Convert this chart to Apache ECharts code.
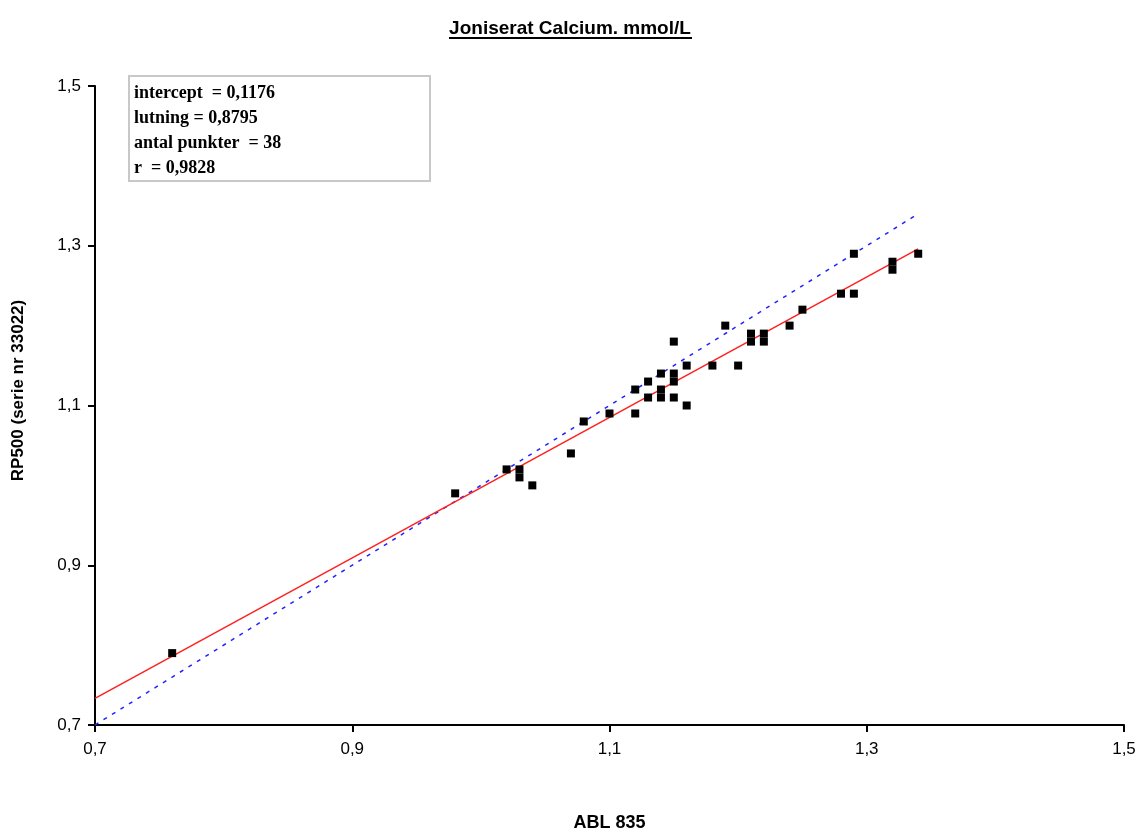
<!DOCTYPE html>
<html>
<head>
<meta charset="utf-8">
<title>Joniserat Calcium</title>
<script src="https://cdn.jsdelivr.net/npm/echarts@6/dist/echarts.min.js"></script>
<style>
  html, body { margin: 0; padding: 0; background: #fff; }
  #chart { width: 1140px; height: 832px; }
</style>
</head>
<body>
<div id="chart"></div>
<script>
// measured pairs (ABL 835, RP500)
var ablValues = [0.76, 0.98, 1.02, 1.03, 1.03, 1.04, 1.07, 1.08, 1.10, 1.12, 1.12, 1.13, 1.13,
  1.14, 1.14, 1.14, 1.15, 1.15, 1.15, 1.15, 1.16, 1.16, 1.18, 1.19, 1.20, 1.21, 1.21,
  1.22, 1.22, 1.24, 1.25, 1.28, 1.29, 1.29, 1.32, 1.32, 1.34]
var rpValues = [0.79, 0.99, 1.02, 1.02, 1.01, 1.00, 1.04, 1.08, 1.09, 1.09, 1.12, 1.11, 1.13,
  1.14, 1.12, 1.11, 1.14, 1.13, 1.11, 1.18, 1.15, 1.10, 1.15, 1.20, 1.15, 1.19, 1.18,
  1.19, 1.18, 1.20, 1.22, 1.24, 1.24, 1.29, 1.28, 1.27, 1.29]

// fitted line and line of identity, end points
var regressionLine = [[0.7, 0.7333], [1.34, 1.2961]]
var identityLine = [[0.7, 0.7], [1.34, 1.34]]

var statLines = [
  'intercept  = 0,1176',
  'lutning = 0,8795',
  'antal punkter  = 38',
  'r  = 0,9828'
]

var points = ablValues.map(function (x, i) { return [x, rpValues[i]] })

function comma (v) {
  return (Math.round(v * 10) / 10).toFixed(1).replace('.', ',')
}

var chart = echarts.init(document.getElementById('chart'))

var option = {
  backgroundColor: '#fff',
  animation: false,
  title: {
    text: 'Joniserat Calcium. mmol/L',
    left: 'center',
    top: 14,
    textStyle: {
      fontFamily: 'Liberation Sans Narrow, Liberation Sans, Arial',
      fontSize: 19,
      fontWeight: 'bold',
      color: '#000'
    }
  },
  grid: { left: 95, right: 16, top: 86, bottom: 107, outerBoundsMode: 'none', containLabel: false },
  xAxis: {
    type: 'value',
    min: 0.7,
    max: 1.5,
    interval: 0.2,
    name: 'ABL 835',
    nameLocation: 'middle',
    nameGap: 89,
    nameTextStyle: {
      fontFamily: 'Liberation Sans Narrow, Liberation Sans, Arial',
      fontSize: 18, fontWeight: 'bold', color: '#000'
    },
    axisLine: { lineStyle: { color: '#000', width: 2 } },
    axisTick: { length: 7, lineStyle: { color: '#000', width: 2 } },
    axisLabel: {
      formatter: comma,
      margin: 16,
      fontFamily: 'Liberation Sans, Arial',
      fontSize: 17,
      color: '#000'
    },
    splitLine: { show: false }
  },
  yAxis: {
    type: 'value',
    min: 0.7,
    max: 1.5,
    interval: 0.2,
    name: 'RP500 (serie nr 33022)',
    nameLocation: 'middle',
    nameGap: 68,
    nameRotate: 90,
    nameTextStyle: {
      fontFamily: 'Liberation Sans Narrow, Liberation Sans, Arial',
      fontSize: 17, fontWeight: 'bold', color: '#000',
      padding: [0, 0, 0, 30]
    },
    axisLine: { lineStyle: { color: '#000', width: 2 } },
    axisTick: { length: 7, lineStyle: { color: '#000', width: 2 } },
    axisLabel: {
      formatter: comma,
      margin: 14,
      fontFamily: 'Liberation Sans, Arial',
      fontSize: 17,
      color: '#000'
    },
    splitLine: { show: false }
  },
  series: [
    {
      type: 'line',
      data: identityLine,
      symbol: 'none',
      lineStyle: { color: '#2222ff', width: 1.5, type: [4, 6] },
      z: 2
    },
    {
      type: 'line',
      data: regressionLine,
      symbol: 'none',
      lineStyle: { color: '#ff2020', width: 1.5 },
      z: 3
    },
    {
      type: 'scatter',
      data: points,
      symbol: 'rect',
      symbolSize: 8,
      itemStyle: { color: '#000', opacity: 1 },
      z: 4
    }
  ],
  graphic: [
    {
      type: 'line',
      shape: { x1: 449, y1: 38, x2: 692, y2: 38 },
      style: { stroke: '#000', lineWidth: 2 }
    },
    {
      type: 'rect',
      shape: { x: 129, y: 76, width: 301, height: 105 },
      style: { fill: '#fff', stroke: '#c8c8c8', lineWidth: 2 },
      z: 10
    },
    {
      type: 'text',
      left: 134,
      top: 81,
      z: 11,
      style: {
        text: statLines.join('\n'),
        fill: '#000',
        font: 'bold 18px "Liberation Serif", "Times New Roman", serif',
        lineHeight: 25
      }
    }
  ]
}

chart.setOption(option)
</script>
</body>
</html>
